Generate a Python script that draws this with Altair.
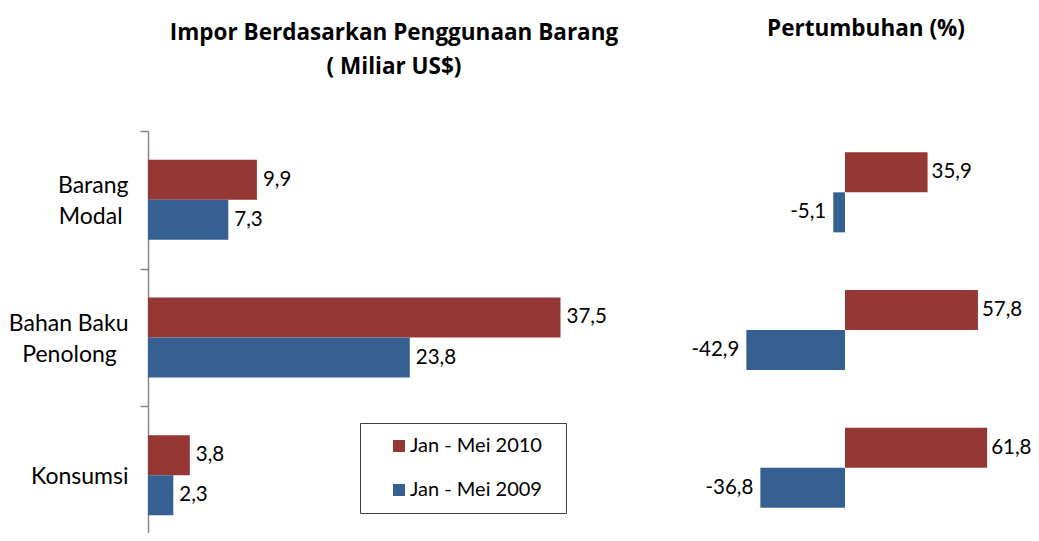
import altair as alt
import pandas as pd

# ---------------- data ----------------
categories = ["Barang Modal", "Bahan Baku Penolong", "Konsumsi"]
series = ["Jan - Mei 2010", "Jan - Mei 2009"]
colors = ["#953735", "#376092"]
impor_2010 = [9.9, 37.5, 3.8]
impor_2009 = [7.3, 23.8, 2.3]
growth_2010 = [35.9, 57.8, 61.8]
growth_2009 = [-5.1, -42.9, -36.8]
title_left_1 = "Impor Berdasarkan Penggunaan Barang"
title_left_2 = "( Miliar US$)"
title_right = "Pertumbuhan (%)"

rows = []
for i, c in enumerate(categories):
    rows.append({"kategori": c, "periode": series[0], "impor": impor_2010[i], "growth": growth_2010[i]})
    rows.append({"kategori": c, "periode": series[1], "impor": impor_2009[i], "growth": growth_2009[i]})
df = pd.DataFrame(rows)

FONT = "Lato"
TFONT = "Open Sans"
FS_AX = 23
FS_VAL = 20.5
FS_LEG = 20
H = 413          # plot height (band range)
NB = "\u00a0"
ZW = "\u200b"    # keeps trailing no-break spaces from being trimmed

label_expr = (
    "datum.value == 'Barang Modal' ? ['Barang', 'Modal" + NB + ZW + "'] : "
    "datum.value == 'Bahan Baku Penolong' ? ['Bahan Baku', 'Penolong" + NB * 2 + ZW + "'] : datum.value"
)

base = alt.Chart(df)

yoff = alt.YOffset("periode:N", sort=series,
                   scale=alt.Scale(domain=series, paddingInner=0, paddingOuter=0.72))
color = alt.Color(
    "periode:N",
    scale=alt.Scale(domain=series, range=colors),
    legend=alt.Legend(
        title=None, orient="none", legendX=212, legendY=292,
        fillColor="white", strokeColor="#404040", padding=13,
        symbolType="square", symbolSize=144, symbolOffset=16, symbolStrokeWidth=0,
        labelOffset=1, rowPadding=24, labelFont=FONT, labelFontSize=FS_LEG, labelColor="black",
        labelExpr="datum.label + '" + NB * 2 + ZW + "'",
        cornerRadius=0,
    ),
)


def y_left(axis):
    return alt.Y("kategori:N", sort=categories, title=None,
                 scale=alt.Scale(domain=categories, range=[0, H], paddingInner=0, paddingOuter=0),
                 axis=axis)


def y_right():
    return alt.Y("kategori:N", sort=categories, title=None,
                 scale=alt.Scale(domain=categories, range=[-7.5, H - 7.5], paddingInner=0, paddingOuter=0),
                 axis=None)


y_axis = alt.Axis(
    tickBand="extent", domainColor="#868686", domainWidth=1.5, tickColor="#868686",
    tickWidth=1.5, tickSize=8, labelFont=FONT, labelFontSize=FS_AX, labelColor="black",
    labelPadding=12, labelAlign="right", labelBaseline="middle", labelLineHeight=31,
    labelOffset=alt.condition("datum.value == 'Konsumsi'", alt.value(1), alt.value(-14)),
    labelExpr=label_expr, labelLimit=300,
)

x_left = alt.X("impor:Q", scale=alt.Scale(domain=[0, 40], range=[0, 440], nice=False), axis=None)
PX = 2.3
Z = 697
x_right = alt.X("growth:Q", scale=alt.Scale(domain=[-60, 70], range=[Z - 60 * PX, Z + 70 * PX],
                                            nice=False, zero=False), axis=None)

lbl_calc = "(datum.{f} < 0 ? '-' : '') + replace(format(abs(datum.{f}), '.1f'), '.', ',')"

left_bars = base.mark_bar().encode(x=x_left, y=y_left(y_axis), yOffset=yoff, color=color)
left_text = base.transform_calculate(lbl=lbl_calc.format(f="impor")).mark_text(
    align="left", baseline="middle", dx=6, font=FONT, fontSize=FS_VAL, color="black"
).encode(x=x_left, y=y_left(None), yOffset=yoff, text="lbl:N")

right_bars = base.mark_bar().encode(x=x_right, y=y_right(), yOffset=yoff, color=color)
right_text_pos = base.transform_filter("datum.growth >= 0").transform_calculate(
    lbl=lbl_calc.format(f="growth")).mark_text(
    align="left", baseline="middle", dx=4, font=FONT, fontSize=FS_VAL, color="black"
).encode(x=x_right, y=y_right(), yOffset=yoff, text="lbl:N")
right_text_neg = base.transform_filter("datum.growth < 0").transform_calculate(
    lbl=lbl_calc.format(f="growth")).mark_text(
    align="right", baseline="middle", dx=-7, font=FONT, fontSize=FS_VAL, color="black"
).encode(x=x_right, y=y_right(), yOffset=yoff, text="lbl:N")


def title_mark(text, x, y):
    return alt.Chart(pd.DataFrame({"t": [text]})).mark_text(
        align="center", baseline="middle", font=TFONT, fontSize=22.5, fontWeight="bold", color="black"
    ).encode(text="t:N", x=alt.value(x), y=alt.value(y))


t1 = title_mark(title_left_1, 246, -98)
t2 = title_mark(title_left_2, 246, -64)
t3 = title_mark(title_right, 718, -102)

chart = alt.layer(
    left_bars, left_text, right_bars, right_text_pos, right_text_neg, t1, t2, t3
).resolve_scale(
    x="independent", y="independent"
).properties(
    width=883, height=402,
    autosize=alt.AutoSizeParams(type="none"),
    padding={"left": 140, "top": 123, "right": 0, "bottom": 0},
).configure_view(stroke=None)

chart.save("out.html", embed_options={"renderer": "svg", "actions": False})
